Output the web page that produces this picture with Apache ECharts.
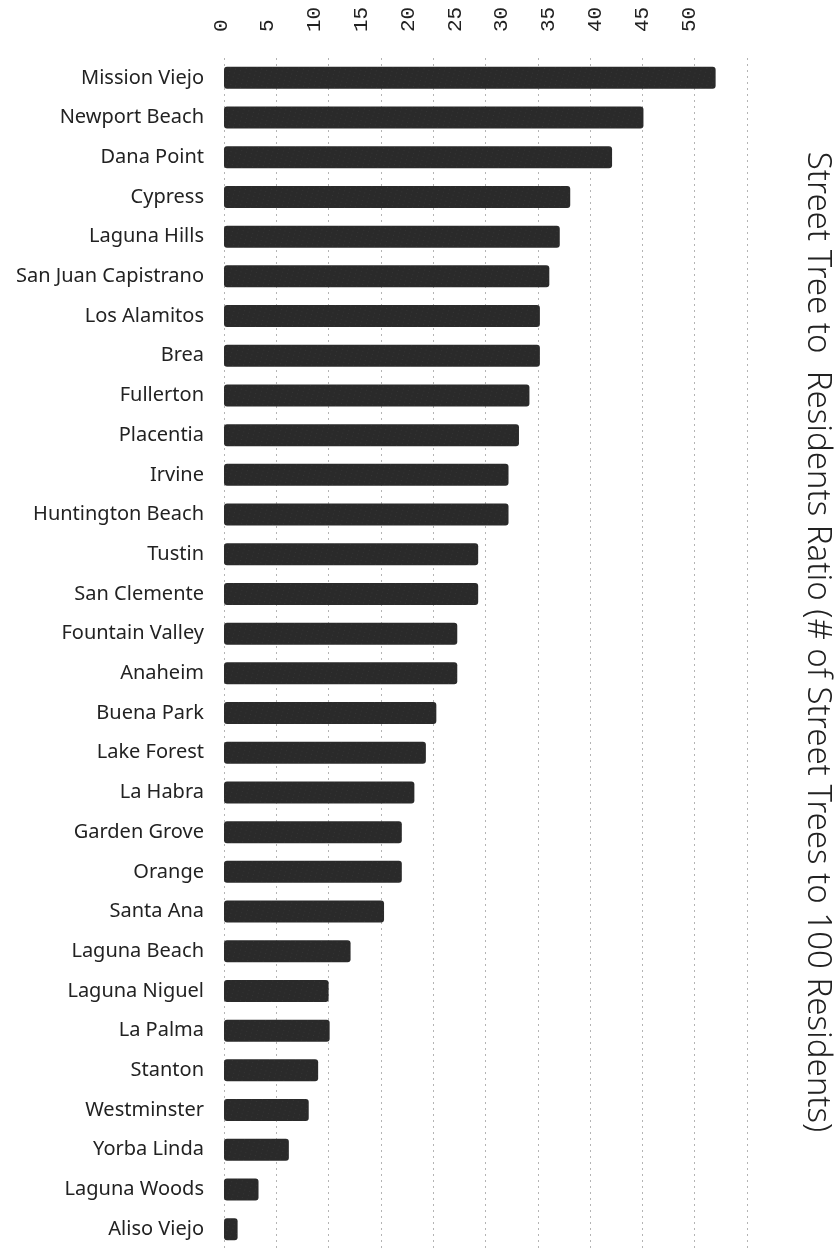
<!DOCTYPE html>
<html>
<head>
<meta charset="utf-8">
<script src="https://cdn.jsdelivr.net/npm/echarts@6/dist/echarts.min.js"></script>
<style>
html,body{margin:0;padding:0;background:#fff;}
#chart{width:839px;height:1249px;}
</style>
</head>
<body>
<div id="chart"></div>
<script>
const categories = [
  'Mission Viejo','Newport Beach','Dana Point','Cypress','Laguna Hills',
  'San Juan Capistrano','Los Alamitos','Brea','Fullerton','Placentia',
  'Irvine','Huntington Beach','Tustin','San Clemente','Fountain Valley',
  'Anaheim','Buena Park','Lake Forest','La Habra','Garden Grove',
  'Orange','Santa Ana','Laguna Beach','Laguna Niguel','La Palma',
  'Stanton','Westminster','Yorba Linda','Laguna Woods','Aliso Viejo'
];
const ratios = [
  47.0, 40.1, 37.1, 33.1, 32.1,
  31.1, 30.2, 30.2, 29.2, 28.2,
  27.2, 27.2, 24.3, 24.3, 22.3,
  22.3, 20.3, 19.3, 18.2, 17.0,
  17.0, 15.3, 12.1, 10.0, 10.1,
  9.0, 8.1, 6.2, 3.3, 1.3
];
const tickLabels = ['0','5','10','15','20','25','30','35','40','45','50'];
const axisTitle = 'Street Tree to  Residents Ratio (# of Street Trees to 100 Residents)';

const chart = echarts.init(document.getElementById('chart'), null, {renderer:'canvas'});
chart.setOption({
  animation:false,
  backgroundColor:'#ffffff',
  grid:[
    {left:224, top:58, width:523, height:1200, containLabel:false},
    {left:221, top:58, width:468, height:1200, containLabel:false}
  ],
  xAxis:[{
    gridIndex:0, type:'value', position:'top', min:0, max:50, interval:5,
    axisLine:{show:false}, axisTick:{show:false}, axisLabel:{show:false},
    splitLine:{show:true, lineStyle:{color:'#777', type:[2,4], width:1, opacity:0.55}}
  },{
    gridIndex:1, type:'value', position:'top', min:0, max:50, interval:5,
    axisLine:{show:false}, axisTick:{show:false}, splitLine:{show:false},
    axisLabel:{
      show:true, rotate:-90, margin:26,
      fontFamily:'Liberation Mono', fontSize:21, color:'#222',
      formatter:function(v){ return tickLabels[Math.round(v/5)] || ''; }
    }
  }],
  yAxis:[{
    gridIndex:0, type:'category', data:categories, inverse:true,
    axisLine:{show:false}, axisTick:{show:false},
    axisLabel:{margin:20, fontFamily:'Noto Sans', fontSize:20, color:'#222'}
  },{
    gridIndex:1, type:'category', data:categories, inverse:true, show:false
  }],
  series:[{
    type:'bar', xAxisIndex:0, yAxisIndex:0, data:ratios, barWidth:22,
    itemStyle:{
      color:'#2a2a2a', borderRadius:3,
      decal:{symbol:'rect', symbolSize:0.6, color:'rgba(255,255,255,0.18)', dashArrayX:[1,4], dashArrayY:[1,3], rotation:0.3}
    }
  }],
  graphic:[{
    type:'text', x:817, y:642, rotation:-Math.PI/2,
    style:{text:axisTitle, fontFamily:'Noto Sans', fontWeight:300, fontSize:33, fill:'#222', textAlign:'center', textVerticalAlign:'middle'}
  }]
});
</script>
</body>
</html>
